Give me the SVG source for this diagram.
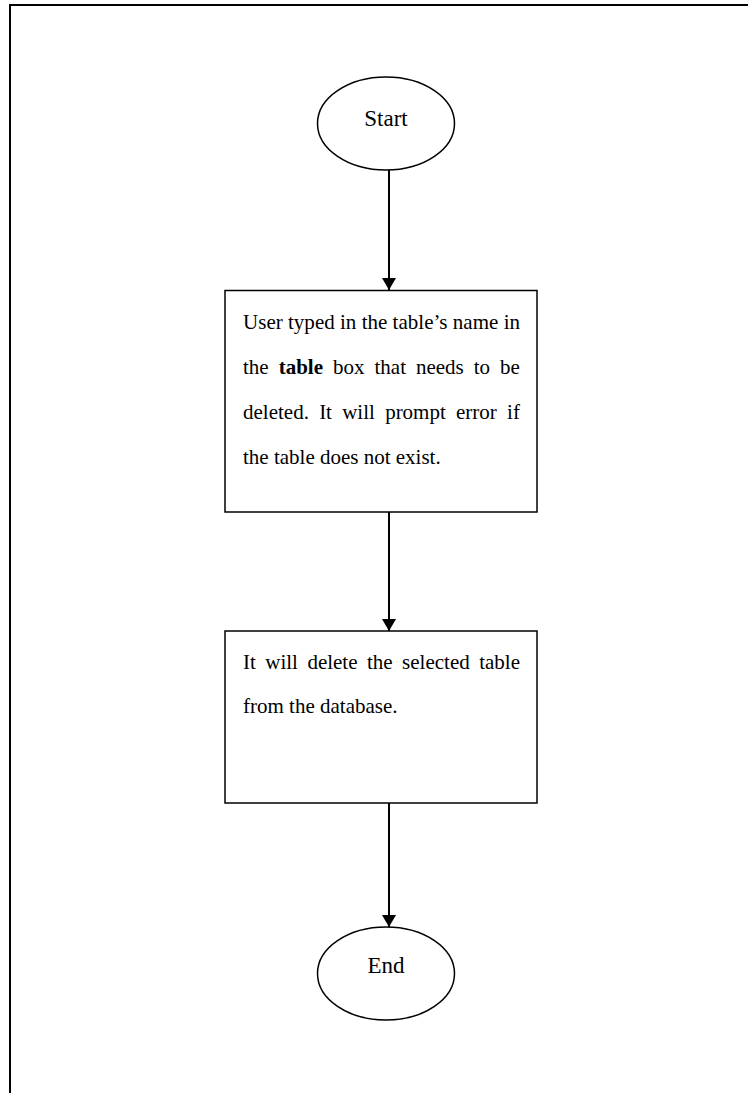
<svg xmlns="http://www.w3.org/2000/svg" width="748" height="1093" viewBox="0 0 748 1093">
<defs>
<marker id="arr" viewBox="0 0 12 14" refX="12" refY="7" markerWidth="12" markerHeight="14" markerUnits="userSpaceOnUse" orient="auto">
<path d="M0,0 L12,7 L0,14 Z" fill="#000"/>
</marker>
</defs>
<style>
.shape{fill:#fff;stroke:#000;stroke-width:1.5}
.txt{font-family:"Liberation Serif","Times New Roman",serif;font-size:21px;fill:#000}
.big{font-size:23px}
.c{text-anchor:middle}
.conn{stroke:#000;stroke-width:2;fill:none;marker-end:url(#arr)}
</style>
<rect width="748" height="1093" fill="#fff"/>
<path d="M10,1093 V5 H748" fill="none" stroke="#000" stroke-width="2"/>
<g id="connectors">
<line class="conn" x1="389" y1="170" x2="389" y2="290"/>
<line class="conn" x1="389" y1="512" x2="389" y2="631"/>
<line class="conn" x1="389" y1="803" x2="389" y2="927"/>
</g>
<g id="start">
<ellipse class="shape" cx="386" cy="123.5" rx="68.5" ry="46.5"/>
<text class="txt big c" x="386" y="126">Start</text>
</g>
<g id="step1">
<rect class="shape" x="225" y="290.5" width="312" height="221.5"/>
<text class="txt" x="243" y="329" textLength="277" lengthAdjust="spacing">User typed in the table’s name in</text>
<text class="txt" x="243" y="374" word-spacing="4.75">the <tspan font-weight="bold">table</tspan> box that needs to be</text>
<text class="txt" x="243" y="419" word-spacing="5">deleted. It will prompt error if</text>
<text class="txt" x="243" y="464">the table does not exist.</text>
</g>
<g id="step2">
<rect class="shape" x="225" y="631" width="312" height="172"/>
<text class="txt" x="243" y="669" word-spacing="4.2">It will delete the selected table</text>
<text class="txt" x="243" y="713">from the database.</text>
</g>
<g id="end">
<ellipse class="shape" cx="386" cy="973.5" rx="68.5" ry="46.5"/>
<text class="txt big c" x="386" y="973">End</text>
</g>
</svg>
